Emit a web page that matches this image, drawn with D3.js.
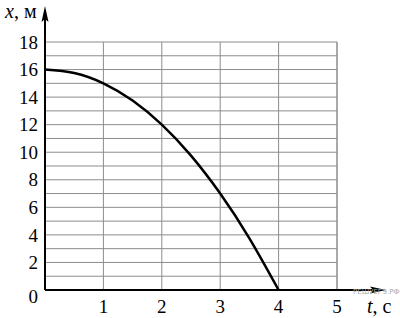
<!DOCTYPE html>
<html>
<head>
<meta charset="utf-8">
<script src="https://cdn.jsdelivr.net/npm/d3@7"></script>
<style>
  body { margin: 0; background: #fff; }
  svg { display: block; font-family: "Liberation Serif", "DejaVu Serif", serif; }
</style>
</head>
<body>
<div id="chart"></div>
<script>
// values
const tPoints = [0, 0.5, 1, 1.5, 2, 2.5, 3, 3.5, 4];
const xPoints = [16, 15.75, 15, 13.75, 12, 9.75, 7, 3.75, 0];
const tTicks = [1, 2, 3, 4, 5];
const xTicks = [2, 4, 6, 8, 10, 12, 14, 16, 18];

const width = 400;
const height = 318;

const svg = d3.select('#chart')
  .append('svg')
  .attr('width', width)
  .attr('height', height);

const tScale = d3.scaleLinear().domain([0, 5]).range([45, 337]);
const xScale = d3.scaleLinear().domain([0, 18]).range([290, 42]);

// grid
const grid = svg.append('g').attr('stroke', '#8c8c8c').attr('stroke-width', 1);
grid.selectAll('line.h')
  .data(d3.range(1, 19))
  .enter()
  .append('line')
  .attr('x1', tScale(0))
  .attr('x2', tScale(5))
  .attr('y1', d => xScale(d))
  .attr('y2', d => xScale(d));
grid.selectAll('line.v')
  .data(tTicks)
  .enter()
  .append('line')
  .attr('x1', d => tScale(d))
  .attr('x2', d => tScale(d))
  .attr('y1', xScale(0))
  .attr('y2', xScale(18))
  .attr('stroke-width', d => d === 5 ? 1.5 : 1);

// axes
const origin = [tScale(0), xScale(0)];
svg.append('line')
  .attr('x1', origin[0]).attr('y1', origin[1])
  .attr('x2', 380).attr('y2', origin[1])
  .attr('stroke', '#000').attr('stroke-width', 2);
svg.append('line')
  .attr('x1', origin[0]).attr('y1', origin[1])
  .attr('x2', origin[0]).attr('y2', 12)
  .attr('stroke', '#000').attr('stroke-width', 2);
svg.append('path')
  .attr('d', `M386,${origin[1]} L370,${origin[1] - 3.5} L373,${origin[1]} L370,${origin[1] + 3.5} Z`)
  .attr('fill', '#000');
svg.append('path')
  .attr('d', `M${origin[0]},6 L${origin[0] - 3.5},22 L${origin[0]},19 L${origin[0] + 3.5},22 Z`)
  .attr('fill', '#000');

// tick labels
svg.selectAll('text.ylab')
  .data(xTicks)
  .enter()
  .append('text')
  .attr('x', 38)
  .attr('y', d => xScale(d))
  .attr('dy', '0.35em')
  .attr('text-anchor', 'end')
  .attr('font-size', 19)
  .text(d => d);
svg.append('text')
  .attr('x', 38).attr('y', origin[1] + 13)
  .attr('text-anchor', 'end')
  .attr('font-size', 19)
  .text('0');
svg.selectAll('text.tlab')
  .data(tTicks)
  .enter()
  .append('text')
  .attr('x', d => tScale(d))
  .attr('y', 313)
  .attr('text-anchor', 'middle')
  .attr('font-size', 19)
  .text(d => d);

// axis titles
const yTitle = svg.append('text').attr('x', 5).attr('y', 18).attr('font-size', 20);
yTitle.append('tspan').attr('font-style', 'italic').text('x');
yTitle.append('tspan').text(', м');
const tTitle = svg.append('text').attr('x', 367).attr('y', 313).attr('font-size', 20);
tTitle.append('tspan').attr('font-style', 'italic').text('t');
tTitle.append('tspan').text(', с');

// watermark
svg.append('text')
  .attr('x', 353).attr('y', 294)
  .attr('font-family', 'DejaVu Sans, sans-serif')
  .attr('font-size', 7)
  .attr('fill', '#aaa')
  .text('РЕШУЕГЭ.РФ');

// curve
const line = d3.line()
  .x((d, i) => tScale(tPoints[i]))
  .y(d => xScale(d))
  .curve(d3.curveNatural);
svg.append('path')
  .datum(xPoints)
  .attr('d', line)
  .attr('fill', 'none')
  .attr('stroke', '#000')
  .attr('stroke-width', 2.5);
</script>
</body>
</html>
